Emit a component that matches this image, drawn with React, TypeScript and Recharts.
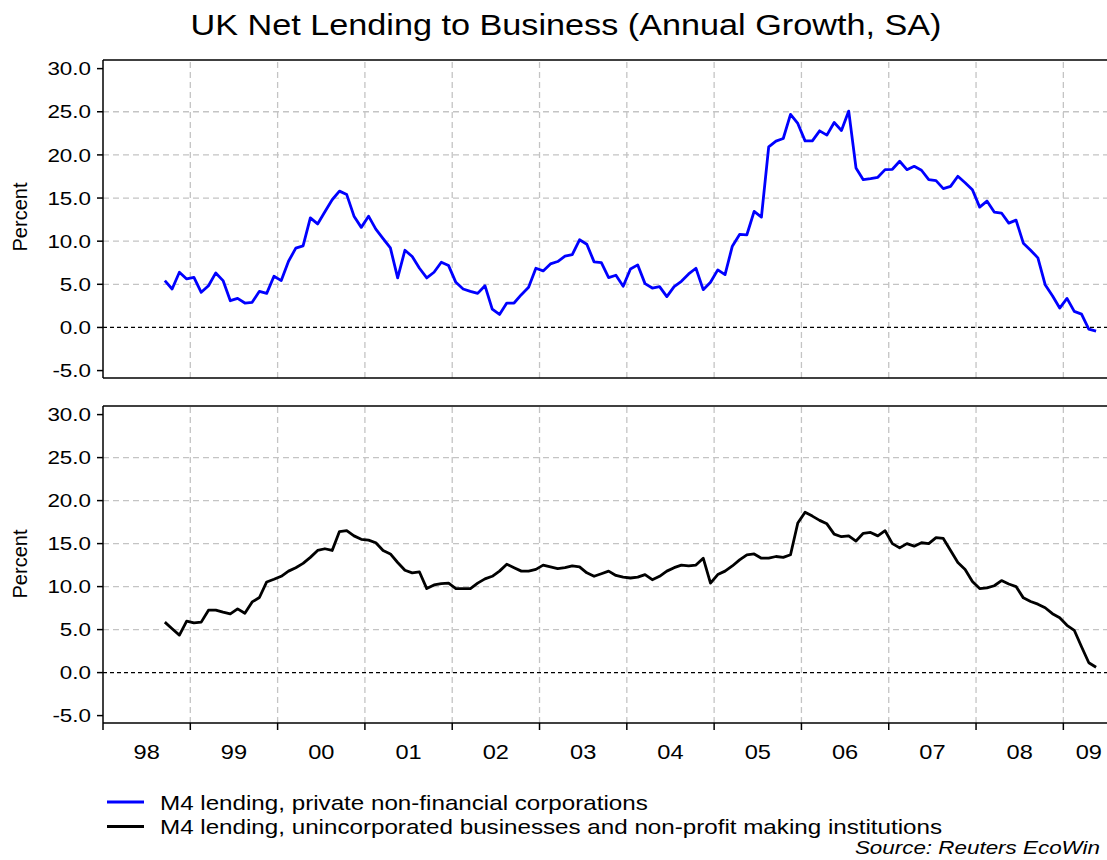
import React from 'react';
import { LineChart, Line, XAxis, YAxis, ReferenceLine } from 'recharts';

// Monthly data, first value = Sep 1998 (month index 8 counted from Jan 1998)
const START_MONTH = 8;
const pnfcGrowth = [
  5.43, 4.46, 6.4, 5.62, 5.81, 4.07, 4.84, 6.32, 5.43, 3.1, 3.37, 2.83, 2.91, 4.19, 3.95, 5.93,
  5.43, 7.67, 9.19, 9.46, 12.7, 12.0, 13.4, 14.8, 15.8, 15.4, 12.9, 11.6, 12.9, 11.4, 10.3, 9.22,
  5.74, 8.95, 8.22, 6.86, 5.74, 6.4, 7.56, 7.17, 5.23, 4.46, 4.19, 3.95, 4.84, 2.13, 1.51, 2.83,
  2.83, 3.8, 4.65, 6.86, 6.55, 7.36, 7.64, 8.26, 8.45, 10.16, 9.65, 7.6, 7.52, 5.78, 6.05, 4.77,
  6.78, 7.25, 5.08, 4.57, 4.73, 3.57, 4.73, 5.35, 6.2, 6.86, 4.38, 5.23, 6.67, 6.12, 9.42, 10.78,
  10.74, 13.45, 12.79, 20.93, 21.59, 21.9, 24.69, 23.64, 21.63, 21.63, 22.79, 22.29, 23.76, 22.83,
  25.08, 18.49, 17.13, 17.25, 17.4, 18.29, 18.33, 19.26, 18.29, 18.68, 18.22, 17.13, 17.02, 16.09,
  16.36, 17.52, 16.78, 15.97, 13.95, 14.65, 13.37, 13.26, 12.09, 12.44, 9.77, 8.95, 8.06, 4.96,
  3.68, 2.25, 3.37, 1.86, 1.55, -0.19, -0.43,
];
const unincGrowth = [
  5.87, 5.1, 4.36, 5.98, 5.79, 5.87, 7.26, 7.26, 7.03, 6.83, 7.41, 6.91, 8.22, 8.73, 10.54, 10.85,
  11.2, 11.8, 12.2, 12.7, 13.4, 14.2, 14.4, 14.2, 16.4, 16.5, 15.9, 15.5, 15.4, 15.1, 14.2, 13.8,
  12.8, 11.9, 11.6, 11.7, 9.77, 10.2, 10.35, 10.4, 9.77, 9.77, 9.77, 10.4, 10.9, 11.2, 11.8, 12.6,
  12.2, 11.8, 11.8, 12.0, 12.5, 12.3, 12.1, 12.2, 12.4, 12.3, 11.6, 11.2, 11.5, 11.8, 11.3, 11.1,
  11.0, 11.1, 11.4, 10.8, 11.2, 11.8, 12.2, 12.5, 12.4, 12.5, 13.3, 10.4, 11.4, 11.8, 12.4, 13.1,
  13.7, 13.8, 13.3, 13.3, 13.5, 13.4, 13.7, 17.4, 18.65, 18.2, 17.7, 17.3, 16.1, 15.8, 15.9, 15.3,
  16.2, 16.3, 15.9, 16.5, 15.0, 14.5, 15.0, 14.7, 15.1, 15.0, 15.7, 15.6, 14.2, 12.8, 12.0, 10.6,
  9.77, 9.85, 10.1, 10.7, 10.3, 10.0, 8.69, 8.27, 7.96, 7.54, 6.85, 6.38, 5.5, 4.92, 3.0, 1.15, 0.62,
];
const yearStarts = [0, 12, 24, 36, 48, 60, 72, 84, 96, 108, 120, 132];
const yearLabels = ['98', '99', '00', '01', '02', '03', '04', '05', '06', '07', '08', '09'];
const yearLabelPos = [6, 18, 30, 42, 54, 66, 78, 90, 102, 114, 126, 135.5];
const yTicks = [-5, 0, 5, 10, 15, 20, 25, 30];
const gridValues = [5, 10, 15, 20, 25];
const X_DOMAIN = [0, 138];
const Y_DOMAIN = [-5.86, 31.0];

const TITLE = 'UK Net Lending to Business (Annual Growth, SA)';
const SERIES_1 = 'M4 lending, private non-financial corporations';
const SERIES_2 = 'M4 lending, unincorporated businesses and non-profit making institutions';
const SOURCE = 'Source: Reuters EcoWin';

const FONT = '"Liberation Sans", Arial, Helvetica, sans-serif';
const SX = 1.18;

const topData = pnfcGrowth.map((v, i) => ({ m: START_MONTH + i + 0.5, v }));
const bottomData = unincGrowth.map((v, i) => ({ m: START_MONTH + i + 0.5, v }));

const YTick = (props: any) => {
  const { x, y, payload } = props;
  return (
    <text
      transform={`translate(${x},${y}) scale(${SX},1)`}
      textAnchor="end"
      dy="0.35em"
      fontSize={19}
      fontFamily={FONT}
      fill="#000"
    >
      {Number(payload.value).toFixed(1)}
    </text>
  );
};

const XLabel = (props: any) => {
  const { x, y, payload } = props;
  const idx = yearLabelPos.indexOf(payload.value);
  return (
    <text
      transform={`translate(${x},${y}) scale(${SX},1)`}
      textAnchor="middle"
      dy={35}
      fontSize={20}
      fontFamily={FONT}
      fill="#000"
    >
      {idx >= 0 ? yearLabels[idx] : ''}
    </text>
  );
};

const EmptyTick = () => <g />;

const AXIS_STROKE = { stroke: '#000', strokeWidth: 1.5 };

function panelDecor(xId: string) {
  const items: React.ReactNode[] = [];
  yearStarts.slice(1).forEach((s) =>
    items.push(
      <ReferenceLine
        key={`vx${s}`}
        x={s}
        xAxisId={xId}
        stroke="#c4c4c4"
        strokeWidth={1.3}
        strokeDasharray="6 4"
        ifOverflow="hidden"
      />
    )
  );
  gridValues.forEach((g) =>
    items.push(
      <ReferenceLine
        key={`hy${g}`}
        y={g}
        xAxisId={xId}
        stroke="#c4c4c4"
        strokeWidth={1.3}
        strokeDasharray="6 4"
      />
    )
  );
  items.push(
    <ReferenceLine key="zero" y={0} xAxisId={xId} stroke="#000" strokeWidth={1.2} strokeDasharray="4 3" />
  );
  return items;
}

const PercentLabel = ({ cy }: { cy: number }) => (
  <text
    transform={`translate(27,${cy}) rotate(-90)`}
    textAnchor="middle"
    fontSize={20}
    fontFamily={FONT}
    fill="#000"
  >
    Percent
  </text>
);

export default function App() {
  return (
    <div style={{ position: 'absolute', left: 0, top: 0, width: 1107, height: 860, background: '#fff', overflow: 'hidden' }}>
      {/* Top panel */}
      <div style={{ position: 'absolute', left: 0, top: 0 }}>
        <LineChart width={1107} height={380} data={topData} margin={{ top: 59, right: 0, bottom: 1, left: 0 }}>
          <XAxis
            xAxisId="t"
            orientation="top"
            type="number"
            dataKey="m"
            domain={X_DOMAIN}
            ticks={yearStarts}
            allowDataOverflow
            height={1}
            tick={false}
            tickLine={false}
            axisLine={AXIS_STROKE}
          />
          <XAxis
            xAxisId="b"
            orientation="bottom"
            type="number"
            dataKey="m"
            domain={X_DOMAIN}
            ticks={yearStarts}
            allowDataOverflow
            height={1}
            tick={false}
            tickLine={false}
            axisLine={AXIS_STROKE}
          />
          <YAxis
            type="number"
            domain={Y_DOMAIN}
            ticks={yTicks}
            allowDataOverflow
            width={103}
            tickSize={6}
            tickMargin={6}
            tick={YTick}
            interval={0}
            tickLine={AXIS_STROKE}
            axisLine={AXIS_STROKE}
          />
          {panelDecor('b')}
          <Line
            xAxisId="b"
            type="linear"
            dataKey="v"
            stroke="#0000ff"
            strokeWidth={2.8}
            dot={false}
            isAnimationActive={false}
            strokeLinejoin="round"
          />
        </LineChart>
      </div>

      {/* Bottom panel */}
      <div style={{ position: 'absolute', left: 0, top: 380 }}>
        <LineChart width={1107} height={420} data={bottomData} margin={{ top: 25, right: 0, bottom: 75, left: 0 }}>
          <XAxis
            xAxisId="t"
            orientation="top"
            type="number"
            dataKey="m"
            domain={X_DOMAIN}
            ticks={yearStarts}
            allowDataOverflow
            height={1}
            tick={false}
            tickLine={false}
            axisLine={AXIS_STROKE}
          />
          <XAxis
            xAxisId="b"
            orientation="bottom"
            type="number"
            dataKey="m"
            domain={X_DOMAIN}
            ticks={yearStarts}
            interval={0}
            allowDataOverflow
            height={1}
            tickSize={7}
            tick={EmptyTick}
            tickLine={AXIS_STROKE}
            axisLine={AXIS_STROKE}
          />
          <XAxis
            xAxisId="lab"
            orientation="bottom"
            type="number"
            dataKey="m"
            domain={X_DOMAIN}
            ticks={yearLabelPos}
            interval={0}
            allowDataOverflow
            height={1}
            tickSize={0}
            tickMargin={0}
            tick={XLabel}
            tickLine={false}
            axisLine={false}
          />
          <YAxis
            type="number"
            domain={Y_DOMAIN}
            ticks={yTicks}
            allowDataOverflow
            width={103}
            tickSize={6}
            tickMargin={6}
            tick={YTick}
            interval={0}
            tickLine={AXIS_STROKE}
            axisLine={AXIS_STROKE}
          />
          {panelDecor('b')}
          <Line
            xAxisId="b"
            type="linear"
            dataKey="v"
            stroke="#000"
            strokeWidth={2.8}
            dot={false}
            isAnimationActive={false}
            strokeLinejoin="round"
          />
        </LineChart>
      </div>

      {/* Title, axis labels, legend, source */}
      <svg width={1107} height={860} style={{ position: 'absolute', left: 0, top: 0, pointerEvents: 'none' }}>
        <text
          transform={`translate(566,35) scale(${SX},1)`}
          textAnchor="middle"
          fontSize={29}
          fontFamily={FONT}
          fill="#000"
        >
          {TITLE}
        </text>
        <PercentLabel cy={217} />
        <PercentLabel cy={564} />
        <line x1={107} x2={144} y1={802} y2={802} stroke="#0000ff" strokeWidth={3} />
        <text transform={`translate(160,809.5) scale(${SX},1)`} fontSize={20.5} fontFamily={FONT} fill="#000">
          {SERIES_1}
        </text>
        <line x1={107} x2={144} y1={826.5} y2={826.5} stroke="#000" strokeWidth={3} />
        <text transform={`translate(160,834) scale(${SX},1)`} fontSize={20.5} fontFamily={FONT} fill="#000">
          {SERIES_2}
        </text>
        <text
          transform={`translate(1100,854) scale(${SX},1)`}
          textAnchor="end"
          fontSize={19}
          fontStyle="italic"
          fontFamily={FONT}
          fill="#000"
        >
          {SOURCE}
        </text>
      </svg>
    </div>
  );
}
